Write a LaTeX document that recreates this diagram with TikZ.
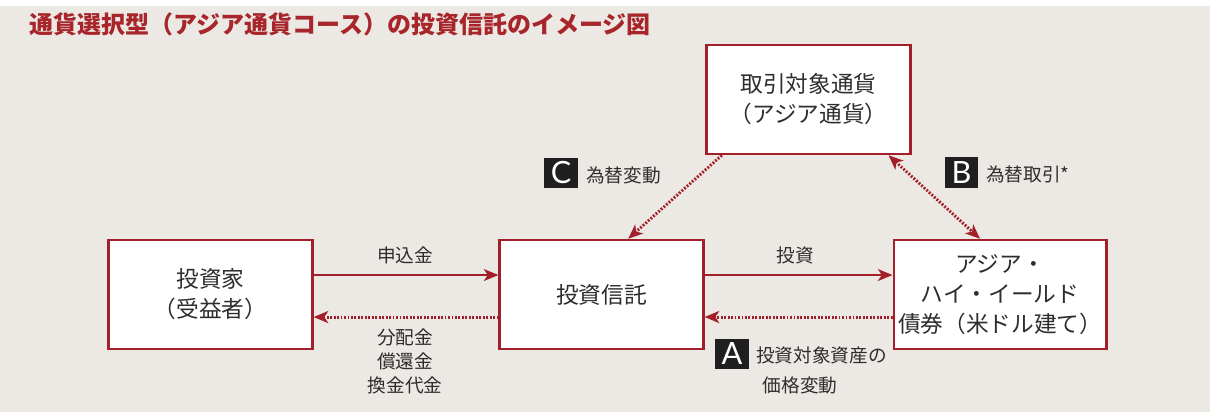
\documentclass[tikz,border=0pt]{standalone}
\usepackage{fontspec}
\setmainfont{Noto Sans CJK JP}
\newfontfamily\badgefont{Lato}
\usetikzlibrary{arrows.meta, positioning}
\usepackage{xcolor}
\definecolor{frame}{HTML}{A3202A}
\definecolor{paper}{HTML}{ECE9E4}
\definecolor{ink}{HTML}{2E2E2E}
\definecolor{heading}{HTML}{A8262B}

\begin{document}
\begin{tikzpicture}[
    x=0.75pt, y=-0.75pt,
    box/.style={draw=frame, line width=1.6pt, fill=white, minimum width=153pt, minimum height=82pt, align=center, text=ink, font=\fontsize{17}{22.5}\selectfont},
    lbl/.style={text=ink, align=center, inner sep=0pt, font=\fontsize{14}{18}\selectfont},
    badge/.style={fill=black!88, text=white, minimum width=25pt, minimum height=23pt, inner sep=0pt, font=\badgefont\fontsize{23}{23}\selectfont},
    arr/.style={-{Stealth[length=11pt, width=9pt, inset=3pt]}, draw=frame, line width=0.9pt},
    dotarr/.style={-{Stealth[length=11pt, width=9pt, inset=3pt]}, draw=frame, line width=2.2pt, dash pattern=on 1.4pt off 1.2pt}
]
    \useasboundingbox (0,0) rectangle (1210,412);
    \fill[paper] (0,6) rectangle (1210,412);

    \node[anchor=west, inner sep=0pt, text=heading, font=\bfseries\fontsize{18}{20}\selectfont] (title) at (29,24) {通貨選択型（アジア通貨コース）の投資信託のイメージ図};

    % boxes
    \node[box] (cur) at (808.5,99.5) {取引対象通貨\\（アジア通貨）};
    \node[box] (inv) at (210.5,294.5) {投資家\\（受益者）};
    \node[box] (fund) at (601.5,294.5) {投資信託};
    \node[box] (bond) at (1000,294.5) {アジア・\\ハイ・イールド\\債券（米ドル建て）};

    % flows between investor, fund and bonds
    \draw[arr] ([yshift=14.6pt]inv.east) -- ([yshift=14.6pt]fund.west);
    \draw[dotarr] ([yshift=-16.9pt]fund.west) -- ([yshift=-16.9pt]inv.east);
    \draw[arr] ([yshift=14.6pt]fund.east) -- ([yshift=14.6pt]bond.west);
    \draw[dotarr] ([yshift=-16.9pt]bond.west) -- ([yshift=-16.9pt]fund.east);

    % currency links
    \draw[dotarr] ([xshift=-65pt]cur.south) -- ([xshift=20pt]fund.north);
    \draw[dotarr, {Stealth[length=11pt, width=9pt, inset=3pt]}-{Stealth[length=11pt, width=9pt, inset=3pt]}] ([xshift=60pt]cur.south) -- ([xshift=-15pt]bond.north);

    \node[lbl] (subs) at (405,255) {申込金};
    \node[lbl] (dist) at (405,361) {分配金\\償還金\\換金代金};
    \node[lbl] (invest) at (795,255) {投資};

    \node[badge] (bA) at (732,354) {A};
    \node[lbl] (priceA) at (821.5,355) {投資対象資産の};
    \node[lbl] (priceB) at (800,385) {価格変動};

    \node[badge] (bC) at (561,173) {C};
    \node[lbl] (fxmove) at (623.5,175) {為替変動};

    \node[badge] (bB) at (961.5,172.5) {B};
    \node[lbl, anchor=west] (fxdeal) at (986,174) {為替取引*};
\end{tikzpicture}
\end{document}
